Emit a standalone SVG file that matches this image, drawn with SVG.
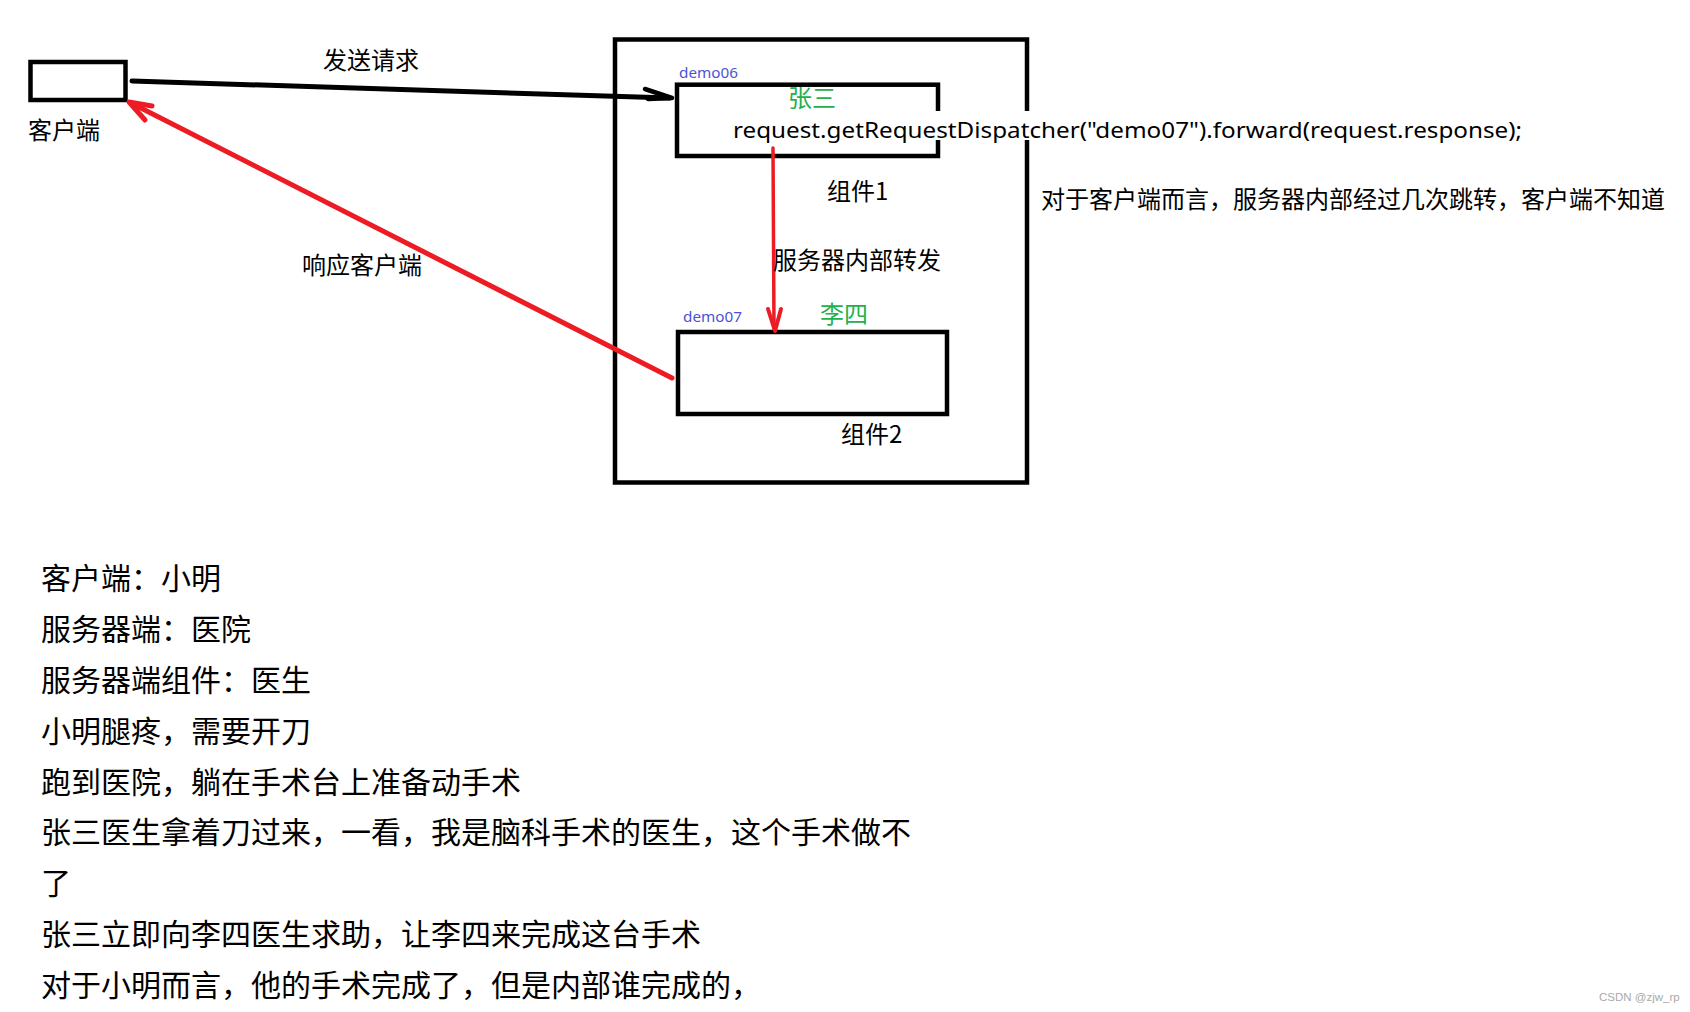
<svg xmlns="http://www.w3.org/2000/svg" width="1690" height="1012" viewBox="0 0 1690 1012">
<style>
.box{fill:none;stroke:#000;stroke-width:4.5}
.t{font-family:"Noto Sans CJK SC","Noto Sans",sans-serif;fill:#000}
.lbl{font-size:24px}
.green{fill:#22b14c}
.demo{font-family:"Noto Sans","Liberation Sans",sans-serif;font-size:15px;fill:#4b52d6}
.story{font-size:30px}
.red{stroke:#ed1c24;fill:none;stroke-linecap:round;stroke-linejoin:round}
.blk{stroke:#000;fill:none;stroke-linecap:round;stroke-linejoin:round}
</style>
<rect width="1690" height="1012" fill="#fff"/>
<g id="server">
<rect class="box" x="615" y="39.5" width="412" height="443"/>
</g>
<g id="client">
<rect class="box" x="30.5" y="62" width="95" height="38"/>
<text class="t lbl" x="28" y="139">客户端</text>
</g>
<g id="demo06">
<rect class="box" x="677" y="84.7" width="261" height="71.3"/>
<text class="demo" x="679" y="78" textLength="59" lengthAdjust="spacingAndGlyphs">demo06</text>
<text class="t lbl green" x="788" y="107">张三</text>
<text class="t lbl" x="827" y="200">组件1</text>
</g>
<g id="demo07">
<rect class="box" x="678" y="332" width="269" height="82"/>
<text class="demo" x="683" y="322" textLength="59" lengthAdjust="spacingAndGlyphs">demo07</text>
<text class="t lbl green" x="820" y="323">李四</text>
<text class="t lbl" x="841" y="443">组件2</text>
</g>
<g id="connectors">
<line class="blk" x1="132" y1="81" x2="670" y2="98" stroke-width="5"/>
<polyline class="blk" points="645,89 672,98 648,99" stroke-width="4.5"/>
<line class="red" x1="773" y1="148" x2="774" y2="328" stroke-width="3.5"/>
<polyline class="red" points="768,309 775,331 781,309" stroke-width="4"/>
<line class="red" x1="672" y1="378" x2="131" y2="103" stroke-width="5"/>
<polyline class="red" points="152,106 129,102 145,120" stroke-width="5"/>
<text class="t lbl" x="323" y="69">发送请求</text>
<text class="t lbl" x="302" y="274">响应客户端</text>
<text class="t lbl" x="773" y="269">服务器内部转发</text>
</g>
<g id="code">
<rect x="729" y="111" width="800" height="29" fill="#fff"/>
<text x="733" y="138" font-family="'Noto Sans','Liberation Sans',sans-serif" font-size="22" fill="#000" textLength="789" lengthAdjust="spacingAndGlyphs">request.getRequestDispatcher("demo07").forward(request.response);</text>
</g>
<g id="note">
<text class="t lbl" x="1041" y="208">对于客户端而言，服务器内部经过几次跳转，客户端不知道</text>
</g>
<g id="story">
<text class="t story" x="41" y="589">客户端：小明</text>
<text class="t story" x="41" y="640">服务器端：医院</text>
<text class="t story" x="41" y="691">服务器端组件：医生</text>
<text class="t story" x="41" y="742">小明腿疼，需要开刀</text>
<text class="t story" x="41" y="793">跑到医院，躺在手术台上准备动手术</text>
<text class="t story" x="41" y="843">张三医生拿着刀过来，一看，我是脑科手术的医生，这个手术做不</text>
<text class="t story" x="41" y="894">了</text>
<text class="t story" x="41" y="945">张三立即向李四医生求助，让李四来完成这台手术</text>
<text class="t story" x="41" y="996">对于小明而言，他的手术完成了，但是内部谁完成的，</text>
</g>
<text x="1599" y="1001" font-family="'Liberation Sans',sans-serif" font-size="11.5" fill="#aaa">CSDN @zjw_rp</text>
</svg>
